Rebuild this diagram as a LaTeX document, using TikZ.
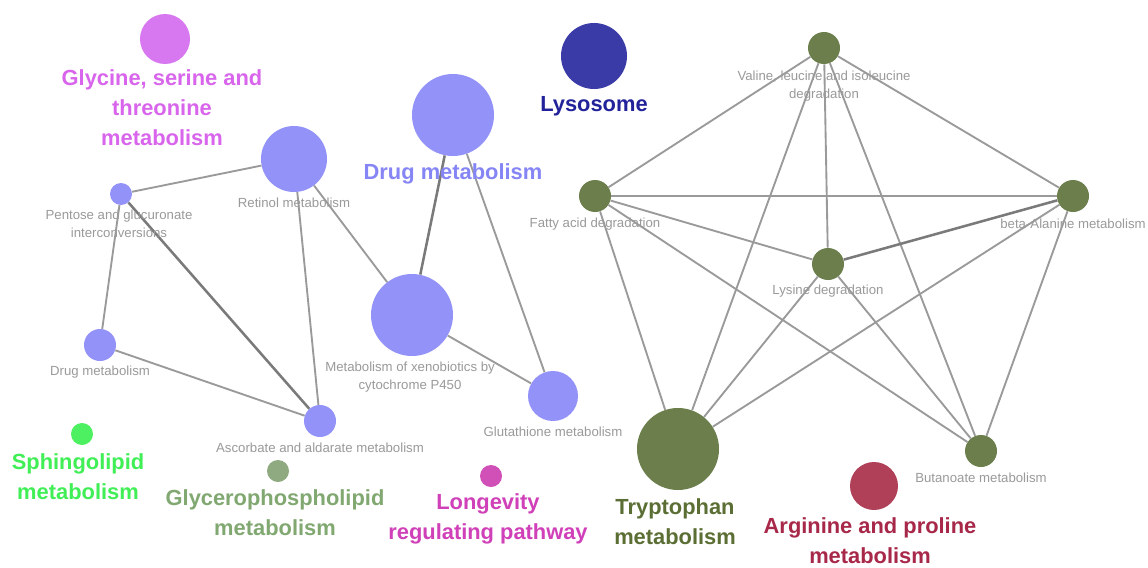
\documentclass[tikz,border=0pt]{standalone}
\usepackage{fontspec}
\setmainfont{Liberation Sans}
\definecolor{lav}{HTML}{9292F8}
\definecolor{olive}{HTML}{6B7E4B}
\definecolor{edgec}{HTML}{9A9A9A}
\definecolor{edged}{HTML}{7A7A7A}
\definecolor{smallt}{HTML}{9A9A9A}
\definecolor{glyc}{HTML}{D878F0}
\definecolor{glyct}{HTML}{D865EC}
\definecolor{lavt}{HTML}{8585F5}
\definecolor{lyso}{HTML}{3A3BA6}
\definecolor{lysot}{HTML}{22229A}
\definecolor{sphi}{HTML}{4DF060}
\definecolor{sphit}{HTML}{40EE55}
\definecolor{glyp}{HTML}{8FAA80}
\definecolor{glypt}{HTML}{80A870}
\definecolor{longv}{HTML}{D050B8}
\definecolor{longvt}{HTML}{D040B8}
\definecolor{argi}{HTML}{B04058}
\definecolor{argit}{HTML}{A8284A}
\definecolor{trypt}{HTML}{5B6E34}
\begin{document}
\begin{tikzpicture}[x=0.75pt,y=-0.75pt,
  nd/.style={circle,inner sep=0pt,draw=none,fill=#1},
  d22/.style={minimum size=16.5pt},
  d32/.style={minimum size=24pt},
  d48/.style={minimum size=36pt},
  d50/.style={minimum size=37.5pt},
  d66/.style={minimum size=49.5pt},
  d82/.style={minimum size=61.5pt},
  sl/.style={text=smallt,font=\fontsize{9.9pt}{13.5pt}\selectfont,align=center,inner sep=0pt},
  bl/.style={text=#1,font=\fontsize{16.4pt}{22.5pt}\selectfont\bfseries,align=center,inner sep=0pt},
  ed/.style={draw=edgec,line width=1.4pt},
  edk/.style={draw=edged,line width=1.9pt}]
\useasboundingbox[fill=white] (0,0) rectangle (1148,567);
% left cluster
\node[nd=lav,d66] (ret) at (294,159) {};
\node[nd=lav,d22] (pen) at (121,194) {};
\node[nd=lav,d82] (drugb) at (453,115) {};
\node[nd=lav,d82] (xeno) at (412,315) {};
\node[nd=lav,d32] (drugs) at (100,345) {};
\node[nd=lav,d32] (asc) at (320,421) {};
\node[nd=lav,d50] (glu) at (553,396) {};
% isolated
\node[nd=glyc,d50] (gly) at (165,39) {};
\node[nd=lyso,d66] (lys) at (594,56) {};
\node[nd=sphi,d22] (sph) at (82,434) {};
\node[nd=glyp,d22] (gph) at (278,471) {};
\node[nd=longv,d22] (lon) at (491,476) {};
\node[nd=argi,d48] (arg) at (874,486) {};
% right cluster
\node[nd=olive,d32] (val) at (824,48) {};
\node[nd=olive,d32] (fat) at (595,196) {};
\node[nd=olive,d32] (bet) at (1073,196) {};
\node[nd=olive,d32] (lsn) at (828,264) {};
\node[nd=olive,d82] (try) at (678,449) {};
\node[nd=olive,d32] (but) at (981,451) {};
% edges left
\draw[ed] (pen) -- (ret);
\draw[ed] (pen) -- (drugs);
\draw[edk] (pen) -- (asc);
\draw[ed] (ret) -- (asc);
\draw[ed] (ret) -- (xeno);
\draw[edk] (drugb) -- (xeno);
\draw[ed] (drugb) -- (glu);
\draw[ed] (xeno) -- (glu);
\draw[ed] (drugs) -- (asc);
% edges right
\draw[ed] (val) -- (fat);
\draw[ed] (val) -- (bet);
\draw[ed] (val) -- (lsn);
\draw[ed] (val) -- (try);
\draw[ed] (val) -- (but);
\draw[ed] (fat) -- (bet);
\draw[ed] (fat) -- (lsn);
\draw[ed] (fat) -- (try);
\draw[ed] (fat) -- (but);
\draw[edk] (bet) -- (lsn);
\draw[ed] (bet) -- (try);
\draw[ed] (bet) -- (but);
\draw[ed] (lsn) -- (try);
\draw[ed] (lsn) -- (but);
% small labels
\node[sl] (lret) at (294,203) {Retinol metabolism};
\node[sl] (lpen) at (119,224) {Pentose and glucuronate\\interconversions};
\node[sl] (lxen) at (410,377) {Metabolism of xenobiotics by\\cytochrome P450};
\node[sl] (ldrs) at (100,372) {Drug metabolism};
\node[sl] (lasc) at (320,448) {Ascorbate and aldarate metabolism};
\node[sl] (lglu) at (553,432) {Glutathione metabolism};
\node[sl] (lval) at (824,86) {Valine, leucine and isoleucine\\degradation};
\node[sl] (lfat) at (595,224) {Fatty acid degradation};
\node[sl] (lbet) at (1073,224) {beta-Alanine metabolism};
\node[sl] (llsn) at (828,291) {Lysine degradation};
\node[sl] (lbut) at (981,478) {Butanoate metabolism};
% bold labels
\node[bl=glyct] (lgly) at (162,108) {Glycine, serine and\\threonine\\metabolism};
\node[bl=lavt] (ldrb) at (453,174) {Drug metabolism};
\node[bl=lysot] (llys) at (594,106) {Lysosome};
\node[bl=sphit] (lsph) at (78,477) {Sphingolipid\\metabolism};
\node[bl=glypt] (lgph) at (275,513) {Glycerophospholipid\\metabolism};
\node[bl=longvt] (llon) at (488,519) {Longevity\\regulating pathway};
\node[bl=trypt] (ltry) at (675,522) {Tryptophan\\metabolism};
\node[bl=argit] (larg) at (870,541) {Arginine and proline\\metabolism};
\end{tikzpicture}
\end{document}
